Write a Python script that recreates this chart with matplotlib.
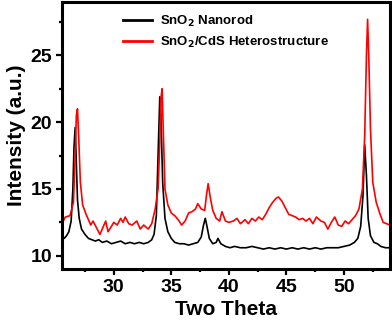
import matplotlib
matplotlib.use('Agg')
import matplotlib.pyplot as plt
from matplotlib.ticker import MultipleLocator

# SnO2 nanorod pattern (two theta, intensity)
nanorod_x = [25.5, 25.7, 25.9, 26.1, 26.3, 26.45, 26.55, 26.65, 26.75, 26.85, 27.0, 27.2, 27.5,
             27.8, 28.1, 28.4, 28.7, 29.0, 29.4, 29.8, 30.2, 30.6, 31.0, 31.4, 31.8, 32.2, 32.6,
             33.0, 33.3, 33.5, 33.7, 33.85, 34.0, 34.1, 34.25, 34.45, 34.7, 35.0, 35.3, 35.7,
             36.1, 36.5, 36.9, 37.3, 37.6, 37.8, 37.95, 38.1, 38.3, 38.6, 38.9, 39.05, 39.3,
             39.7, 40.1, 40.5, 41.0, 41.5, 42.0, 42.5, 43.0, 43.5, 44.0, 44.5, 45.0, 45.5, 46.0,
             46.5, 47.0, 47.5, 48.0, 48.5, 49.0, 49.5, 50.0, 50.5, 50.9, 51.2, 51.45, 51.65,
             51.8, 51.95, 52.1, 52.3, 52.6, 52.9, 53.2, 53.6, 54.0]
nanorod_y = [11.5, 11.3, 11.5, 11.8, 12.6, 15.0, 18.2, 19.6, 17.0, 14.2, 12.8, 12.0, 11.6,
             11.3, 11.2, 11.1, 11.2, 11.0, 11.1, 10.9, 11.0, 11.1, 10.9, 11.0, 10.9, 11.0, 10.9,
             11.0, 11.2, 11.6, 13.0, 17.5, 21.9, 20.5, 15.5, 12.8, 11.8, 11.3, 11.0, 10.9,
             10.9, 10.8, 10.9, 11.0, 11.4, 12.3, 12.8, 12.2, 11.3, 10.9, 11.0, 11.3, 10.9,
             10.7, 10.6, 10.7, 10.6, 10.6, 10.7, 10.6, 10.5, 10.6, 10.5, 10.6, 10.5, 10.6, 10.5,
             10.6, 10.5, 10.6, 10.5, 10.6, 10.6, 10.6, 10.7, 10.8, 11.0, 11.3, 12.2, 14.5,
             18.3, 16.0, 12.8, 11.5, 11.0, 10.9, 10.7, 10.6, 10.6]

# SnO2/CdS heterostructure pattern
hetero_x = [25.5, 25.8, 26.2, 26.5, 26.65, 26.75, 26.85, 26.95, 27.1, 27.3, 27.6, 28.0, 28.2,
            28.5, 28.8, 29.0, 29.3, 29.5, 29.8, 30.0, 30.3, 30.6, 30.8, 31.0, 31.3, 31.6, 32.0,
            32.3, 32.6, 33.0, 33.3, 33.6, 33.85, 34.0, 34.1, 34.2, 34.3, 34.45, 34.7, 35.0,
            35.3, 35.6, 35.9, 36.2, 36.5, 36.8, 37.1, 37.3, 37.6, 37.9, 38.05, 38.2, 38.4,
            38.6, 38.9, 39.2, 39.4, 39.7, 40.0, 40.4, 40.7, 41.0, 41.4, 41.7, 42.0, 42.3, 42.6,
            42.9, 43.2, 43.5, 43.8, 44.1, 44.3, 44.6, 44.9, 45.2, 45.5, 45.8, 46.1, 46.4, 46.7,
            47.0, 47.3, 47.6, 48.0, 48.3, 48.6, 48.9, 49.2, 49.5, 49.8, 50.1, 50.4, 50.7, 51.0,
            51.3, 51.6, 51.8, 51.95, 52.05, 52.15, 52.3, 52.5, 52.8, 53.1, 53.4, 53.7, 54.0]
hetero_y = [12.4, 12.9, 13.0, 14.0, 17.5, 20.5, 21.0, 19.0, 15.5, 13.8, 13.1, 12.3, 12.6,
            12.1, 11.6, 12.0, 12.6, 11.8, 12.2, 12.5, 12.3, 12.8, 12.5, 12.9, 12.4, 12.3, 12.6,
            12.0, 12.3, 12.0, 12.4, 13.5, 15.0, 18.5, 21.8, 22.5, 19.5, 15.0, 13.8, 13.2,
            13.0, 12.7, 12.3, 12.6, 13.2, 13.3, 13.5, 13.9, 13.5, 13.4, 14.5, 15.4, 14.3,
            13.4, 12.8, 12.6, 13.3, 12.6, 12.5, 12.6, 12.8, 12.4, 12.7, 12.4, 12.8, 12.6, 12.9,
            12.7, 13.1, 13.6, 14.0, 14.3, 14.4, 14.1, 13.6, 13.1, 13.0, 12.9, 12.7, 12.8, 12.6,
            12.8, 12.4, 12.9, 12.6, 12.5, 12.0, 12.5, 12.9, 12.3, 12.2, 12.6, 12.4, 12.7, 13.0,
            13.5, 15.0, 19.0, 25.0, 27.7, 25.0, 19.5, 15.5, 14.0, 13.2, 12.5, 12.4, 12.3]

plt.rcParams['font.family'] = ['Liberation Sans', 'DejaVu Sans']
plt.rcParams['font.weight'] = 'bold'

fig = plt.figure(figsize=(3.92, 3.2), dpi=100)
ax = fig.add_axes([0.158, 0.159, 0.837, 0.835])

ax.plot(nanorod_x, nanorod_y, color='black', lw=1.2, label='SnO$_2$ Nanorod')
ax.plot(hetero_x, hetero_y, color='#ff0000', lw=1.2, label='SnO$_2$/CdS Heterostructure')

ax.set_xlim(25.5, 54)
ax.set_ylim(9.0, 29.0)
ax.xaxis.set_major_locator(MultipleLocator(5))
ax.xaxis.set_minor_locator(MultipleLocator(2.5))
ax.yaxis.set_major_locator(MultipleLocator(5))
ax.yaxis.set_minor_locator(MultipleLocator(2.5))
ax.tick_params(which='major', direction='out', length=4, width=1.6, labelsize=14, pad=3)
ax.tick_params(which='minor', direction='out', length=2.5, width=1.6)
for s in ax.spines.values():
    s.set_linewidth(2.2)

ax.set_xlabel('Two Theta', fontsize=15, fontweight='bold', labelpad=3)
ax.set_ylabel('Intensity (a.u.)', fontsize=15, fontweight='bold', labelpad=3)

leg = ax.legend(loc='upper left', bbox_to_anchor=(0.15, 1.0), frameon=False,
                handlelength=2.2, labelspacing=0.45, handletextpad=0.6,
                prop={'weight': 'bold', 'size': 9.5})
for line in leg.get_lines():
    line.set_linewidth(2)

fig.savefig('out.png', dpi=100)
